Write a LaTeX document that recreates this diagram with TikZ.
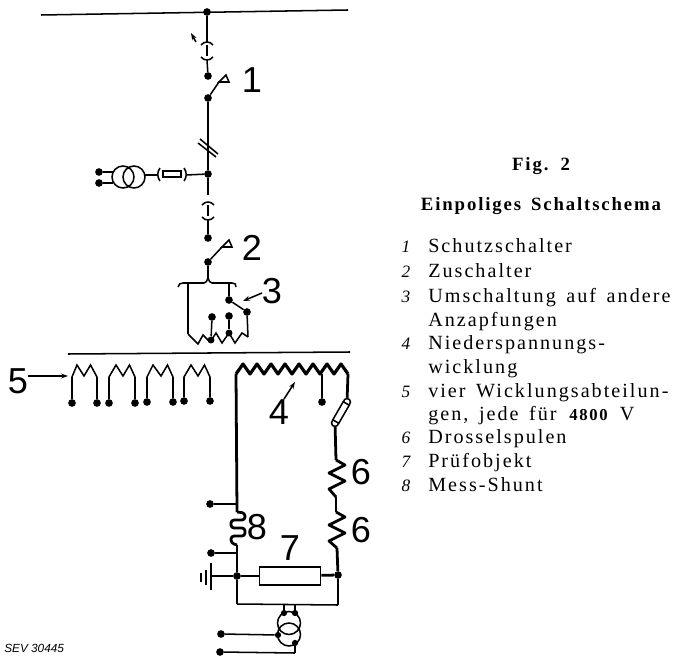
\documentclass[tikz,border=0pt]{standalone}
\usepackage{fontspec}
\setmainfont{Liberation Serif}[LetterSpace=10,WordSpace=1.5]
\setsansfont{Liberation Sans}
\usetikzlibrary{arrows.meta}
\tikzset{
  dot/.style={circle,fill,inner sep=0pt,minimum size=5.5pt},
  wire/.style={line width=1.1pt},
  heavy/.style={line width=2pt},
  partlabel/.style={font=\sffamily\fontsize{26}{26}\selectfont,inner sep=0pt},
  itemnum/.style={anchor=base,inner sep=0pt,font=\fontsize{12.5}{14}\selectfont\itshape},
  itemtext/.style={anchor=base west,inner sep=0pt,font=\fontsize{14.5}{16}\selectfont},
  linkend/.style={circle,draw,fill=white,line width=1.1pt,inner sep=0pt,minimum size=5pt},
  breaker/.pic={
    \draw[wire] (-6,-6) .. controls (-3,-10) and (3,-10) .. (6,-6);
    \draw[wire] (-6,6) .. controls (-3,10) and (3,10) .. (6,6);
    \draw[wire] (0,-6) -- (0,5);
  },
  handle/.pic={
    \draw[wire] (0,0) -- (7,-7) -- (10,0) -- cycle;
  }
}
\begin{document}
\begin{tikzpicture}[x=0.72pt,y=-0.72pt,>={Stealth[length=5pt,width=3.5pt]}]
  \useasboundingbox (0,0) rectangle (683,657);
  % upper part
  \coordinate (busAw) at (41,15);
  \coordinate (busAe) at (348,10);
  \node[dot] (busA) at (207,12) {};
  \coordinate (brkAt) at (207,43);
  \coordinate (brkAb) at (207,60);
  \pic at (207,51) {breaker};
  \node[dot] (swAt) at (208,76) {};
  \node[dot] (swAb) at (208,98) {};
  \coordinate (swAh) at (219,82);
  \pic at (219,82) {handle};
  \node[dot] (junc) at (208,174) {};
  \coordinate (brkBt) at (208,195);
  \coordinate (brkBb) at (208,220);
  \pic at (208,211) {breaker};
  \node[dot] (swBt) at (208,238) {};
  \node[dot] (swBb) at (208,262) {};
  \coordinate (swBh) at (222,247);
  \pic at (222,247) {handle};
  \coordinate (brace) at (208,278);
  \path[wire,-]
    (busAw) edge (busAe)
    (busA) edge (brkAt)
    (brkAb) edge (swAt)
    (swAb) edge (swAh)
    (swAb) edge (junc)
    (junc) edge (brkBt)
    (brkBb) edge (swBt)
    (swBb) edge (swBh)
    (swBb) edge (brace);
  \draw[wire,<-] (191,33) -- (196,42);
  \draw[wire] (198,143) -- (216,157) (200,139) -- (218,154);
  % measuring branch
  \coordinate (fuseE) at (158,175);
  \coordinate (fuseW) at (145,175);
  \node[draw,wire,minimum width=13pt,minimum height=4.5pt,inner sep=0pt] (fuse) at (172,174) {};
  \draw[wire] (184,168) .. controls (187,172) and (187,177) .. (184,181);
  \draw[wire] (160,168) .. controls (157,172) and (157,177) .. (160,181);
  \draw[wire] (123,177) circle (11) (134,177) circle (11);
  \node[dot] (vtA) at (99,172) {};
  \node[dot] (vtB) at (99,183) {};
  \coordinate (vtAe) at (113,172);
  \coordinate (vtBe) at (113,183);
  \coordinate (juncW) at (186,175);
  \path[wire,-]
    (junc) edge (juncW)
    (fuseW) edge (fuseE)
    (vtA) edge (vtAe)
    (vtB) edge (vtBe);
  % tap changer
  \draw[wire] (178,287) .. controls (179,284) and (180,283) .. (183,283) -- (204,283)
    .. controls (206,283) and (207,281) .. (208,278) .. controls (209,281) and (210,283) .. (212,283)
    -- (232,283) .. controls (235,283) and (236,284) .. (236,287);
  \node[dot] (tapS) at (229,300) {};
  \node[dot] (tapE) at (247,312) {};
  \node[dot] (tapA) at (212,317) {};
  \node[dot] (tapB) at (229,316) {};
  \node[dot,minimum size=5pt] (tapAz) at (211,340) {};
  \node[dot,minimum size=5pt] (tapBz) at (229,333) {};
  \coordinate (braceL) at (188,284);
  \coordinate (braceR) at (229,283);
  \coordinate (zigL) at (188,334);
  \coordinate (zigR) at (248,337);
  \draw[wire] (zigL) -- (193,339) -- (198,344) -- (203,335) -- (210,342) -- (216,333)
    -- (222,343) -- (229,333) -- (235,343) -- (242,333) -- (zigR);
  \path[wire,-]
    (braceL) edge (zigL)
    (braceR) edge (tapS)
    (tapS) edge (tapE)
    (tapE) edge (zigR)
    (tapA) edge (tapAz)
    (tapB) edge (tapBz);
  \draw[wire,->] (262,293) -- (243,301);
  % lower part
  \coordinate (busBw) at (68,354);
  \coordinate (busBe) at (350,352);
  \path[wire,-] (busBw) edge (busBe);
  \foreach \n/\a/\b/\c/\d/\y in {a/72/77/84/97/403,b/109/116/123/135/403,c/147/153/161/173/402,d/184/191/198/210/401} {
    \node[dot] (sec\n l) at (\a,\y) {};
    \node[dot] (sec\n r) at (\d,\y) {};
    \draw[wire] (sec\n l) -- (\a,377) -- (\b,365) -- (\c,376) -- (\c+6.5,365) -- (\d,377) -- (sec\n r);
  }
  \draw[wire,->] (28,376) -- (68,376);
  % low voltage winding
  \coordinate (lvW) at (236,374);
  \coordinate (lvT) at (322,374);
  \coordinate (lvE) at (348,374);
  \draw[line width=2.3pt,line join=round] (lvW) \foreach \i in {1,...,8} { -- ++(7,-10) -- ++(7,10) };
  \node[dot] (lvTd) at (322,402) {};
  \node[linkend] (linkA) at (347,402) {};
  \node[linkend] (linkB) at (335,423) {};
  \node[draw,wire,fill=white,rotate=60,minimum width=15pt,minimum height=5pt,inner sep=0pt] (link) at (341,412.5) {};
  \coordinate (chA) at (336,460);
  \coordinate (chAb) at (336,497);
  \coordinate (chB) at (336,512);
  \coordinate (chBb) at (337,548);
  \draw[heavy,line join=round] (chA) -- (345,465) -- (329,473) -- (345,481) -- (329,489) -- (chAb);
  \draw[heavy,line join=round] (chB) -- (345,517) -- (329,525) -- (345,533) -- (329,541) -- (chBb);
  \draw[wire,->] (284,399) -- (295,382);
  \node[dot] (mainE) at (338,575) {};
  \node[dot] (mainW) at (237,576) {};
  \node[draw,line width=1.3pt,fill=white,minimum width=44pt,minimum height=13.5pt,inner sep=0pt] (object) at (290,576) {};
  \coordinate (shuntT) at (237,512);
  \coordinate (shuntB) at (237,545);
  \draw[heavy,rounded corners=2.2pt] (shuntT) -- (245,513) -- (245,520) -- (231,520) -- (231,528)
    -- (245,528) -- (245,536) -- (231,536) -- (231,543) -- (shuntB);
  \node[dot] (shA) at (210,504) {};
  \node[dot] (shB) at (211,553) {};
  \coordinate (shAe) at (237,504);
  \coordinate (shBe) at (237,553);
  \coordinate (gnd) at (211,576);
  \draw[heavy] (211,563) -- (211,590);
  \draw[wire] (206,570) -- (206,585) (201,573) -- (201,582);
  \path[heavy,-]
    (lvW) edge (shuntT)
    (lvT) edge (lvTd)
    (lvE) edge (linkA)
    (linkB) edge (chA)
    (chAb) edge (chB)
    (chBb) edge (mainE)
    (shuntB) edge (mainW)
    (gnd) edge (mainW)
    (mainW) edge (object)
    (object) edge (mainE);
  \path[wire,-]
    (shA) edge (shAe)
    (shB) edge (shBe);
  % current transformer
  \coordinate (loopW) at (237,604);
  \coordinate (loopE) at (338,605);
  \node[dot,minimum size=4.5pt] (ctA) at (284,613) {};
  \node[dot,minimum size=4.5pt] (ctB) at (295,613) {};
  \node[dot,minimum size=4.5pt] (ctC) at (278,635) {};
  \node[dot,minimum size=4.5pt] (ctD) at (295,643) {};
  \node[dot] (ctE) at (221,634) {};
  \node[dot] (ctF) at (220,652) {};
  \coordinate (ctAt) at (284,605);
  \coordinate (ctBt) at (295,605);
  \coordinate (ctDb) at (295,653);
  \draw[wire] (289,623) circle (11.5) (289,634.5) circle (11.5);
  \path[wire,-]
    (mainW) edge (loopW)
    (loopW) edge (loopE)
    (loopE) edge (mainE)
    (ctAt) edge (ctA)
    (ctBt) edge (ctB)
    (ctE) edge (ctC)
    (ctD) edge (ctDb)
    (ctDb) edge (ctF);
  % labels
  \node[partlabel] (lab1) at (252,80) {1};
  \node[partlabel] (lab2) at (252,248) {2};
  \node[partlabel] (lab3) at (272,291) {3};
  \node[partlabel] (lab4) at (279,412) {4};
  \node[partlabel] (lab5) at (18,381) {5};
  \node[partlabel] (lab6a) at (361,472) {6};
  \node[partlabel] (lab6b) at (361,530) {6};
  \node[partlabel] (lab7) at (290,548) {7};
  \node[partlabel] (lab8) at (257,527) {8};
  \node[inner sep=0pt,anchor=base west,font=\sffamily\itshape\fontsize{8.5}{10}\selectfont] (sev) at (4,652) {SEV 30445};
  % caption
  \node[anchor=base,inner sep=0pt,font=\fontsize{13.5}{16}\selectfont\bfseries] (fig) at (541,171) {Fig. 2};
  \node[anchor=base,inner sep=0pt,font=\fontsize{13.5}{16}\selectfont\bfseries] (title) at (541,211) {Einpoliges Schaltschema};
  \foreach \n/\y/\t in {1/253/Schutzschalter,2/278/Zuschalter,3/302/Umschaltung auf andere,4/349/Niederspannungs-,5/397/vier Wicklungsabteilun-,6/443/Drosselspulen,7/467/Prüfobjekt,8/491/Mess-Shunt} {
    \node[itemnum] (num\n) at (406,\y) {\n};
    \node[itemtext] (item\n) at (428,\y) {\t};
  }
  \node[itemtext] (item3b) at (428,326) {Anzapfungen};
  \node[itemtext] (item4b) at (428,373) {wicklung};
  \node[itemtext] (item5b) at (428,420) {gen, jede für \textbf{\fontsize{12}{14}\selectfont 4800} V};
\end{tikzpicture}
\end{document}
